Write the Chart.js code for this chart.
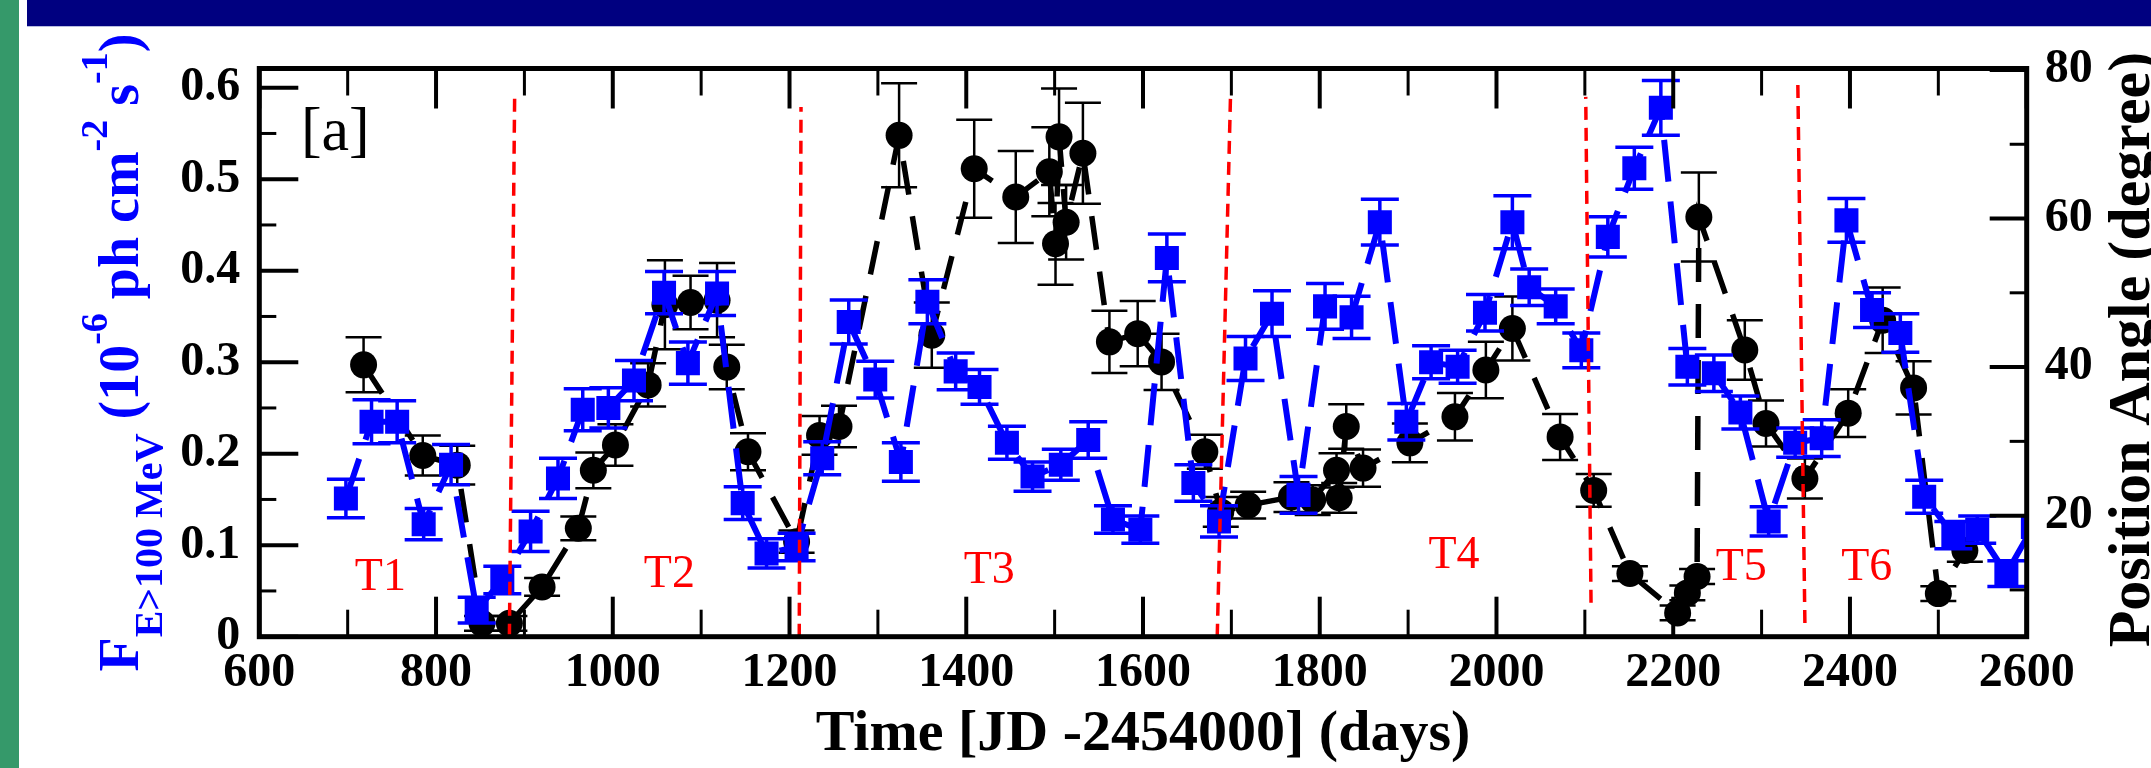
<!DOCTYPE html>
<html>
<head>
<meta charset="utf-8">
<script src="https://cdn.jsdelivr.net/npm/chart.js@4.4.1/dist/chart.umd.min.js"></script>
<style>
  html, body { margin: 0; padding: 0; background: #fff; }
  #wrap { position: relative; width: 2151px; height: 768px; overflow: hidden; }
  #green { position: absolute; left: 0; top: 0; width: 19px; height: 768px; background: #35996a; }
  #navy { position: absolute; left: 27px; top: 0; right: 0; height: 26px; background: #000080; border-bottom: 1px solid #b8bde0; }
  #chart { position: absolute; left: 0; top: 0; }
</style>
</head>
<body>
<div id="wrap">
  <div id="green"></div>
  <div id="navy"></div>
  <canvas id="chart" width="2151" height="768"></canvas>
</div>
<script>
// gamma-ray flux (blue squares, left axis)
const fluxTime = [698, 727, 756, 786, 817, 846, 875, 907, 938, 966, 995, 1024, 1058, 1085, 1118,
  1147, 1174, 1208, 1237, 1267, 1297, 1326, 1356, 1388, 1415, 1446, 1475, 1507, 1538, 1566, 1597,
  1627, 1657, 1686, 1716, 1746, 1776, 1806, 1836, 1868, 1898, 1926, 1956, 1987, 2018, 2037, 2067,
  2096, 2126, 2156, 2186, 2216, 2246, 2276, 2308, 2338, 2368, 2396, 2425, 2457, 2484, 2517, 2544,
  2577, 2607];
const fluxValue = [0.151, 0.235, 0.235, 0.123, 0.188, 0.029, 0.062, 0.115, 0.173, 0.248, 0.250, 0.280,
  0.376, 0.299, 0.375, 0.146, 0.091, 0.098, 0.195, 0.344, 0.281, 0.191, 0.366, 0.290, 0.273, 0.212,
  0.175, 0.188, 0.215, 0.128, 0.117, 0.414, 0.168, 0.126, 0.304, 0.353, 0.155, 0.361, 0.349, 0.453,
  0.235, 0.300, 0.295, 0.354, 0.453, 0.382, 0.361, 0.313, 0.437, 0.512, 0.578, 0.295, 0.288, 0.245,
  0.126, 0.212, 0.217, 0.455, 0.357, 0.332, 0.153, 0.111, 0.117, 0.069, 0.120];
const fluxError = [0.021, 0.024, 0.023, 0.017, 0.022, 0.014, 0.015, 0.022, 0.022, 0.023, 0.022, 0.022,
  0.023, 0.023, 0.024, 0.018, 0.016, 0.015, 0.018, 0.024, 0.020, 0.021, 0.024, 0.020, 0.019, 0.018,
  0.016, 0.017, 0.020, 0.015, 0.015, 0.026, 0.020, 0.017, 0.024, 0.025, 0.020, 0.025, 0.023, 0.025,
  0.020, 0.018, 0.018, 0.020, 0.029, 0.020, 0.019, 0.019, 0.022, 0.023, 0.030, 0.020, 0.020, 0.018,
  0.016, 0.016, 0.020, 0.024, 0.019, 0.021, 0.018, 0.015, 0.015, 0.014, 0];

// position angle (black circles, right axis)
const angleTime = [718, 785, 824, 852, 883, 920, 961, 978, 1003, 1040, 1059, 1088, 1118, 1129, 1153,
  1208, 1234, 1256, 1324, 1361, 1409, 1456, 1494, 1501, 1505, 1513, 1532, 1562, 1594, 1621, 1670,
  1688, 1719, 1768, 1792, 1819, 1822, 1830, 1849, 1902, 1953, 1988, 2018, 2072, 2110, 2151, 2205,
  2216, 2227, 2229, 2281, 2305, 2349, 2398, 2437, 2472, 2500, 2530];
const angleValue = [40.3, 28.1, 26.8, 5.5, 5.5, 10.4, 18.3, 26.1, 29.5, 37.6, 48.4, 48.7, 49.0, 40.0,
  28.6, 16.5, 30.8, 32.0, 71.2, 44.3, 66.7, 62.9, 66.3, 56.6, 71.0, 59.5, 68.8, 43.4, 44.5, 40.7,
  28.6, 20.5, 21.4, 22.5, 22.1, 26.1, 22.4, 32.0, 26.4, 29.8, 33.3, 39.6, 45.2, 30.6, 23.4, 12.2,
  6.9, 9.6, 11.8, 60.2, 42.3, 32.4, 25.0, 33.8, 46.3, 37.2, 9.5, 15.3];
const angleError = [3.7, 2.7, 2.6, 1.0, 1.0, 1.2, 1.6, 2.4, 2.8, 2.9, 6.0, 3.6, 5.0, 3.0, 2.5, 1.5,
  2.6, 2.8, 7.0, 4.4, 6.6, 6.2, 6.0, 5.5, 6.5, 5.0, 6.8, 4.2, 4.4, 3.8, 2.3, 2.0, 1.8, 2.0, 2.0,
  2.3, 2.0, 3.0, 2.5, 2.6, 3.2, 3.8, 4.3, 3.1, 2.2, 1.0, 1.0, 1.0, 1.0, 6.0, 4.0, 3.1, 2.7, 3.2,
  4.4, 3.6, 1.0, 1.5];

// period boundaries (red dashed), top and bottom ends
const boundaryTopTime    = [889, 1213, 1699, 2101, 2341];
const boundaryBottomTime = [883, 1211, 1684, 2107, 2349];
const boundaryTopFlux    = [0.595, 0.579, 0.590, 0.590, 0.605];
const boundaryBottomFlux = [0, 0, 0, 0.037, 0.015];

const periodNames = ['T1', 'T2', 'T3', 'T4', 'T5', 'T6'];
const periodTime  = [737, 1064, 1426, 1952, 2277, 2419];
const periodFlux  = [0.051, 0.054, 0.059, 0.075, 0.062, 0.062];

const timeTicks  = [600, 800, 1000, 1200, 1400, 1600, 1800, 2000, 2200, 2400, 2600];
const timeMinor  = [700, 900, 1100, 1300, 1500, 1700, 1900, 2100, 2300, 2500];
const fluxTicks  = [0, 0.1, 0.2, 0.3, 0.4, 0.5, 0.6];
const fluxMinor  = [0.05, 0.15, 0.25, 0.35, 0.45, 0.55];
const angleTicks = [20, 40, 60, 80];
const angleMinor = [10, 30, 50, 70];

const SERIF = '"Liberation Serif", "Times New Roman", serif';
Chart.defaults.font.family = SERIF;

const points = (xs, ys) => xs.map((x, i) => ({ x: x, y: ys[i] }));

const boundaryDatasets = boundaryTopTime.map((t, i) => ({
  type: 'line',
  data: [{ x: boundaryBottomTime[i], y: boundaryBottomFlux[i] }, { x: t, y: boundaryTopFlux[i] }],
  yAxisID: 'yFlux',
  borderColor: '#ff0000',
  borderWidth: 3.5,
  borderDash: [13, 8],
  pointRadius: 0,
  fill: false,
  clip: 0
}));

// error bars drawn right before their own dataset
const errorBars = {
  id: 'errorBars',
  beforeDatasetDraw(chart, args) {
    const ds = chart.data.datasets[args.index];
    if (!ds.errors) return;
    const { ctx, chartArea } = chart;
    const xs = chart.scales.x;
    const ys = chart.scales[ds.yAxisID];
    ctx.save();
    ctx.beginPath();
    ctx.rect(chartArea.left, chartArea.top, chartArea.right - chartArea.left, chartArea.bottom - chartArea.top);
    ctx.clip();
    ctx.strokeStyle = ds.errColor;
    ctx.lineWidth = ds.errWidth;
    ds.data.forEach((p, i) => {
      const e = ds.errors[i];
      if (!e) return;
      const x = xs.getPixelForValue(p.x);
      const y1 = ys.getPixelForValue(p.y - e);
      const y2 = ys.getPixelForValue(p.y + e);
      const c = ds.capHalf;
      ctx.beginPath();
      ctx.moveTo(x, y1); ctx.lineTo(x, y2);
      ctx.moveTo(x - c, y1); ctx.lineTo(x + c, y1);
      ctx.moveTo(x - c, y2); ctx.lineTo(x + c, y2);
      ctx.stroke();
    });
    ctx.restore();
  }
};

// frame, inward ticks, axis titles and text labels
const decorations = {
  id: 'decorations',
  afterDatasetsDraw(chart) {
    const { ctx, chartArea: a, scales } = chart;
    const xs = scales.x, yf = scales.yFlux, ya = scales.yAngle;
    ctx.save();
    ctx.strokeStyle = '#000';
    ctx.lineCap = 'butt';

    function tick(x1, y1, x2, y2, w) {
      ctx.lineWidth = w;
      ctx.beginPath(); ctx.moveTo(x1, y1); ctx.lineTo(x2, y2); ctx.stroke();
    }
    timeTicks.forEach(v => {
      const x = xs.getPixelForValue(v);
      tick(x, a.bottom, x, a.bottom - 40, 4);
      tick(x, a.top, x, a.top + 40, 4);
    });
    timeMinor.forEach(v => {
      const x = xs.getPixelForValue(v);
      tick(x, a.bottom, x, a.bottom - 27, 3);
      tick(x, a.top, x, a.top + 27, 3);
    });
    fluxTicks.forEach(v => { const y = yf.getPixelForValue(v); tick(a.left, y, a.left + 39, y, 4); });
    fluxMinor.forEach(v => { const y = yf.getPixelForValue(v); tick(a.left, y, a.left + 17, y, 3); });
    angleTicks.forEach(v => { const y = ya.getPixelForValue(v); tick(a.right, y, a.right - 37, y, 4); });
    angleMinor.forEach(v => { const y = ya.getPixelForValue(v); tick(a.right, y, a.right - 17, y, 3); });

    ctx.lineWidth = 5;
    ctx.strokeRect(a.left, a.top, a.right - a.left, a.bottom - a.top);

    // period names and panel tag
    ctx.textAlign = 'center';
    ctx.textBaseline = 'alphabetic';
    ctx.fillStyle = '#ff0000';
    ctx.font = '46px ' + SERIF;
    periodNames.forEach((n, i) => {
      ctx.fillText(n, xs.getPixelForValue(periodTime[i]), yf.getPixelForValue(periodFlux[i]));
    });
    ctx.fillStyle = '#000';
    ctx.font = '62px ' + SERIF;
    ctx.fillText('[a]', xs.getPixelForValue(686), yf.getPixelForValue(0.532));

    // x title
    ctx.font = 'bold 58px ' + SERIF;
    ctx.fillText('Time [JD -2454000] (days)', (a.left + a.right) / 2, 750);

    // right title
    const midY = (a.top + a.bottom) / 2;
    ctx.save();
    ctx.translate(2149, midY - 3);
    ctx.rotate(-Math.PI / 2);
    ctx.font = 'bold 60px ' + SERIF;
    ctx.fillText('Position Angle (degree)', 0, 0);
    ctx.restore();

    // left title with sub/superscripts
    const parts = [
      { t: 'F', s: 56, dy: 0 },
      { t: 'E>100 MeV', s: 40, dy: 24 },
      { t: ' (10', s: 56, dy: 0 },
      { t: '-6', s: 38, dy: -31 },
      { t: ' ph cm', s: 56, dy: 0 },
      { t: '-2', s: 38, dy: -31 },
      { t: ' s', s: 56, dy: 0 },
      { t: '-1', s: 38, dy: -31 },
      { t: ')', s: 56, dy: 0 }
    ];
    ctx.save();
    ctx.translate(138, midY);
    ctx.rotate(-Math.PI / 2);
    ctx.fillStyle = '#0000ff';
    ctx.textAlign = 'left';
    let total = 0;
    parts.forEach(p => {
      ctx.font = 'bold ' + p.s + 'px ' + SERIF;
      p.w = ctx.measureText(p.t).width;
      total += p.w;
    });
    let u = -total / 2;
    parts.forEach(p => {
      ctx.font = 'bold ' + p.s + 'px ' + SERIF;
      ctx.fillText(p.t, u, p.dy);
      u += p.w;
    });
    ctx.restore();

    ctx.restore();
  }
};

const tickFont = { family: SERIF, size: 48, weight: 'bold', lineHeight: 1 };

new Chart(document.getElementById('chart').getContext('2d'), {
  type: 'line',
  data: {
    datasets: [
      ...boundaryDatasets,
      {
        data: points(fluxTime, fluxValue),
        errors: fluxError,
        errColor: '#0000ff',
        errWidth: 3.5,
        capHalf: 19,
        yAxisID: 'yFlux',
        borderColor: '#0000ff',
        borderWidth: 6,
        borderDash: [42, 20],
        pointStyle: 'rect',
        pointRadius: 17,
        pointBackgroundColor: '#0000ff',
        pointBorderWidth: 0,
        fill: false,
        tension: 0,
        clip: 0
      },
      {
        data: points(angleTime, angleValue),
        errors: angleError,
        errColor: '#000000',
        errWidth: 2.5,
        capHalf: 18,
        yAxisID: 'yAngle',
        borderColor: '#000000',
        borderWidth: 5.5,
        borderDash: [34, 22],
        pointStyle: 'circle',
        pointRadius: 13.5,
        pointBackgroundColor: '#000000',
        pointBorderWidth: 0,
        fill: false,
        tension: 0,
        clip: 0
      }
    ]
  },
  options: {
    responsive: false,
    devicePixelRatio: 1,
    animation: false,
    events: [],
    layout: { padding: { top: 68.5, left: 0, right: 0, bottom: 0 } },
    plugins: { legend: { display: false }, tooltip: { enabled: false } },
    scales: {
      x: {
        type: 'linear',
        position: 'bottom',
        min: 600,
        max: 2600,
        afterBuildTicks: s => { s.ticks = timeTicks.map(v => ({ value: v })); },
        afterFit: s => { s.height = 131.3; },
        grid: { display: false, drawTicks: false },
        border: { display: false },
        ticks: { color: '#000', font: tickFont, padding: 13, maxRotation: 0, autoSkip: false,
                 callback: v => String(v) }
      },
      yFlux: {
        type: 'linear',
        position: 'left',
        min: 0,
        max: 0.621,
        afterBuildTicks: s => { s.ticks = fluxTicks.map(v => ({ value: v })); },
        afterFit: s => { s.width = 259.3; },
        grid: { display: false, drawTicks: false },
        border: { display: false },
        ticks: { color: '#000', font: tickFont, padding: 19,
                 callback: v => (v === 0 ? '0' : v.toFixed(1)) }
      },
      yAngle: {
        type: 'linear',
        position: 'right',
        min: 3.7,
        max: 80.2,
        afterBuildTicks: s => { s.ticks = angleTicks.map(v => ({ value: v })); },
        afterFit: s => { s.width = 124.3; },
        grid: { display: false, drawTicks: false },
        border: { display: false },
        ticks: { color: '#000', font: tickFont, padding: 18, callback: v => String(v) }
      }
    }
  },
  plugins: [errorBars, decorations]
});
</script>
</body>
</html>
